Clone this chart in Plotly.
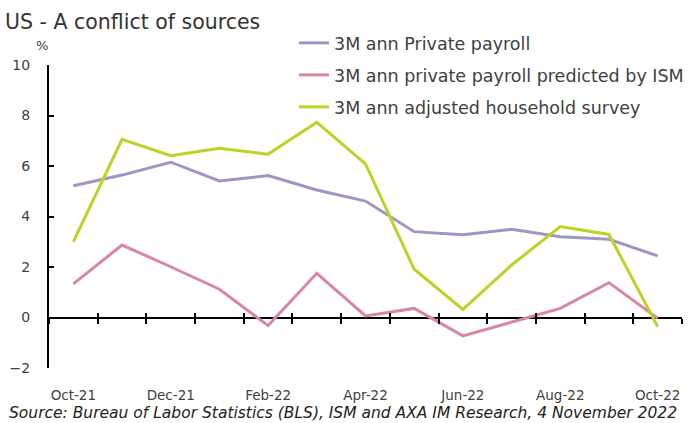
import plotly.graph_objects as go

months = ["Oct-21", "Nov-21", "Dec-21", "Jan-22", "Feb-22", "Mar-22", "Apr-22",
          "May-22", "Jun-22", "Jul-22", "Aug-22", "Sep-22", "Oct-22"]
private_payroll = [5.22, 5.64, 6.15, 5.41, 5.62, 5.05, 4.61, 3.40, 3.28, 3.49, 3.20, 3.10, 2.44]
predicted_by_ism = [1.33, 2.87, 2.01, 1.12, -0.32, 1.75, 0.06, 0.36, -0.73, -0.17, 0.36, 1.38, -0.03]
household_survey = [3.00, 7.06, 6.41, 6.70, 6.47, 7.73, 6.08, 1.91, 0.32, 2.08, 3.60, 3.29, -0.36]

names = ["3M ann Private payroll", "3M ann private payroll predicted by ISM",
         "3M ann adjusted household survey"]
colors = ["#9a97c5", "#d9869f", "#bfd026"]
series = [private_payroll, predicted_by_ism, household_survey]

idx = list(range(len(months)))
boundaries = [i - 0.5 for i in range(len(months) + 1)]

FONT = "DejaVu Sans"
TXT = "#404040"

fig = go.Figure()
legends = ["legend", "legend2", "legend3"]
for s, n, c, lg in zip(series, names, colors, legends):
    fig.add_trace(go.Scatter(x=idx, y=s, name=n, mode="lines",
                             line=dict(color=c, width=3), legend=lg))

# invisible traces for tick-mark axes
for xa in ["x2", "x3"]:
    fig.add_trace(go.Scatter(x=idx, y=private_payroll, xaxis=xa, mode="lines",
                             line=dict(width=0), opacity=0, showlegend=False,
                             hoverinfo="skip"))

L, R, T, B = 49, 7, 65, 55
W, H = 689, 423
ph = H - T - B
pos0 = (0 - (-2)) / 12

def leg_y(py):
    return (H - B - py) / ph

leg_common = dict(font=dict(family=FONT, size=17.5, color=TXT), bgcolor="rgba(0,0,0,0)",
                  xanchor="left", yanchor="middle", x=(294 - L) / (W - L - R),
                  itemwidth=30)

fig.update_layout(
    width=W, height=H,
    margin=dict(l=L, r=R, t=T, b=B, autoexpand=False),
    paper_bgcolor="white", plot_bgcolor="white",
    showlegend=True,
    legend=dict(**leg_common, y=leg_y(43)),
    legend2=dict(**leg_common, y=leg_y(75)),
    legend3=dict(**leg_common, y=leg_y(107)),
    title=dict(text="US - A conflict of sources", x=5 / W, xanchor="left",
               xref="container", yref="container", y=1 - 22 / H, yanchor="middle",
               font=dict(family=FONT, size=20.5, color="#333333")),
    xaxis=dict(range=[-0.5, 12.5], tickvals=idx[::2], ticktext=months[::2],
               showgrid=False, showline=False, zeroline=False, ticks="",
               tickfont=dict(family=FONT, size=13.5, color=TXT), ticklabelstandoff=17),
    xaxis2=dict(range=[-0.5, 12.5], overlaying="x", anchor="free", position=pos0,
                tickvals=boundaries, ticks="outside", ticklen=5, tickwidth=2,
                tickcolor="black", showticklabels=False, showgrid=False,
                showline=False, zeroline=False),
    xaxis3=dict(range=[-0.5, 12.5], overlaying="x", anchor="free", position=pos0,
                tickvals=boundaries, ticks="inside", ticklen=5, tickwidth=2,
                tickcolor="black", showticklabels=False, showgrid=False,
                showline=False, zeroline=False),
    yaxis=dict(range=[-2, 10], dtick=2, showgrid=False, zeroline=True,
               zerolinecolor="black", zerolinewidth=2, showline=True,
               linecolor="black", linewidth=2, ticks="inside", ticklen=5,
               tickwidth=2, tickcolor="black",
               tickfont=dict(family=FONT, size=14, color=TXT), ticklabelstandoff=14),
)

fig.add_annotation(text="%", xref="paper", yref="paper", x=(42 - L) / (W - L - R),
                   y=leg_y(45), xanchor="center", yanchor="middle", showarrow=False,
                   font=dict(family=FONT, size=13, color=TXT))
fig.add_annotation(text="<i>Source: Bureau of Labor Statistics (BLS), ISM and AXA IM Research, 4 November 2022</i>",
                   xref="paper", yref="paper", x=(7 - L) / (W - L - R), y=leg_y(413),
                   xanchor="left", yanchor="middle", showarrow=False,
                   font=dict(family=FONT, size=15.5, color="#222222"))

fig.write_html("out.html")
